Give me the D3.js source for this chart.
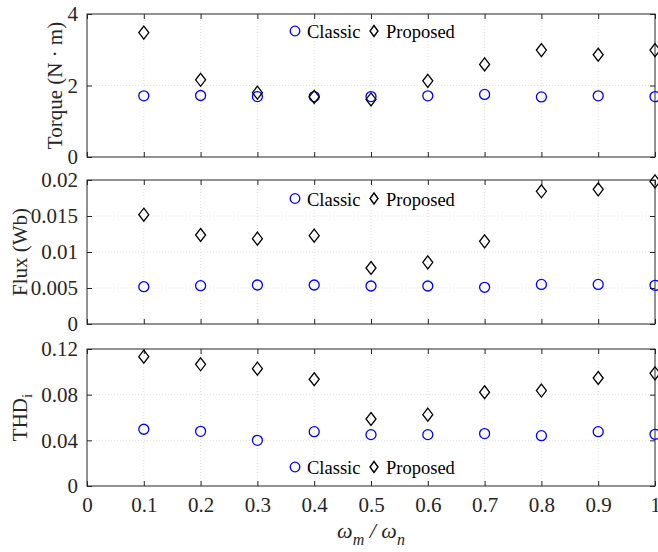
<!DOCTYPE html>
<html>
<head>
<meta charset="utf-8">
<script src="https://cdn.jsdelivr.net/npm/d3@7"></script>
<style>
  html, body { margin: 0; padding: 0; background: #fff; }
  svg, svg text { font-family: "Liberation Serif", "Times New Roman", serif !important; }
  svg { display: block; }
</style>
</head>
<body>
<svg id="chart" width="658" height="552"></svg>
<script>
// ---- data ----
const speedRatio = [0.1, 0.2, 0.3, 0.4, 0.5, 0.6, 0.7, 0.8, 0.9, 1.0];
const torqueClassic  = [1.71, 1.72, 1.69, 1.69, 1.69, 1.71, 1.75, 1.68, 1.71, 1.69];
const torqueProposed = [3.48, 2.16, 1.80, 1.68, 1.61, 2.13, 2.59, 2.99, 2.86, 2.99];
const fluxClassic  = [0.00518, 0.00532, 0.00542, 0.00542, 0.00528, 0.00528, 0.0051, 0.0055, 0.0055, 0.00537];
const fluxProposed = [0.01518, 0.01236, 0.01185, 0.01227, 0.00778, 0.00856, 0.01148, 0.01843, 0.0187, 0.0198];
const thdClassic  = [0.0497, 0.0479, 0.0400, 0.0476, 0.0450, 0.0450, 0.0459, 0.0441, 0.0476, 0.0453];
const thdProposed = [0.1133, 0.1066, 0.1028, 0.0935, 0.0587, 0.0625, 0.0821, 0.0836, 0.0946, 0.0987];
const xTicks = [0, 0.1, 0.2, 0.3, 0.4, 0.5, 0.6, 0.7, 0.8, 0.9, 1];
const xTickLabels = ["0", "0.1", "0.2", "0.3", "0.4", "0.5", "0.6", "0.7", "0.8", "0.9", "1"];
const torqueTicks = [0, 2, 4];
const torqueTickLabels = ["0", "2", "4"];
const fluxTicks = [0, 0.005, 0.01, 0.015, 0.02];
const fluxTickLabels = ["0", "0.005", "0.01", "0.015", "0.02"];
const thdTicks = [0, 0.04, 0.08, 0.12];
const thdTickLabels = ["0", "0.04", "0.08", "0.12"];
const seriesNames = ["Classic", "Proposed"];

// ---- layout ----
const svg = d3.select("#chart");
const axisColor = "#262626";
const serif = '"Liberation Serif", "Times New Roman", serif';
const left = 87, right = 655;
const x = d3.scaleLinear().domain([0, 1]).range([left, right]);

const panels = [
  { top: 14, bottom: 157, domain: [0, 4], ticks: torqueTicks, labels: torqueTickLabels,
    classic: torqueClassic, proposed: torqueProposed, legendY: 31, ylabelX: 62, ylabel: "torque" },
  { top: 180, bottom: 324, domain: [0, 0.02], ticks: fluxTicks, labels: fluxTickLabels,
    classic: fluxClassic, proposed: fluxProposed, legendY: 198.5, ylabelX: 27, ylabel: "flux" },
  { top: 349, bottom: 486, domain: [0, 0.12], ticks: thdTicks, labels: thdTickLabels,
    classic: thdClassic, proposed: thdProposed, legendY: 467, ylabelX: 27, ylabel: "thd" }
];

const diamond = (hw, hh) => `M0,${-hh}L${hw},0L0,${hh}L${-hw},0Z`;

panels.forEach((p, i) => {
  const y = d3.scaleLinear().domain(p.domain).range([p.bottom, p.top]);
  const g = svg.append("g");

  // grid
  g.append("g").selectAll("line").data(xTicks.slice(1, -1)).join("line")
    .attr("x1", d => x(d)).attr("x2", d => x(d))
    .attr("y1", p.top).attr("y2", p.bottom)
    .attr("stroke", "#d9d9d9").attr("stroke-width", 0.8).attr("stroke-dasharray", "1,2");
  g.append("g").selectAll("line").data(p.ticks.slice(1, -1)).join("line")
    .attr("x1", left).attr("x2", right)
    .attr("y1", d => y(d)).attr("y2", d => y(d))
    .attr("stroke", "#d9d9d9").attr("stroke-width", 0.8).attr("stroke-dasharray", "1,2");

  // axes: left with labels, others with inward ticks only
  const yAxis = d3.axisLeft(y).tickValues(p.ticks).tickSizeInner(-5).tickSizeOuter(0)
    .tickPadding(9).tickFormat((d, k) => p.labels[k]);
  const ya = g.append("g").attr("transform", `translate(${left},0)`).call(yAxis)
    .attr("font-family", null).style("font-family", serif);
  ya.select(".domain").remove();
  ya.selectAll("line").attr("stroke", axisColor);
  ya.selectAll("text").attr("fill", axisColor).attr("font-size", 21).style("font-family", serif);

  const yr = g.append("g").attr("transform", `translate(${right},0)`)
    .call(d3.axisRight(y).tickValues(p.ticks).tickSizeInner(-5).tickSizeOuter(0).tickFormat(""));
  yr.select(".domain").remove();
  yr.selectAll("line").attr("stroke", axisColor);

  const isBottom = i === panels.length - 1;
  const xb = g.append("g").attr("transform", `translate(0,${p.bottom})`)
    .call(d3.axisBottom(x).tickValues(xTicks).tickSizeInner(-5).tickSizeOuter(0).tickPadding(11)
      .tickFormat((d, k) => isBottom ? xTickLabels[k] : ""))
    .attr("font-family", null).style("font-family", serif);
  xb.select(".domain").remove();
  xb.selectAll("line").attr("stroke", axisColor);
  xb.selectAll("text").attr("fill", axisColor).attr("font-size", 21).style("font-family", serif);

  const xt = g.append("g").attr("transform", `translate(0,${p.top})`)
    .call(d3.axisTop(x).tickValues(xTicks).tickSizeInner(-5).tickSizeOuter(0).tickFormat(""));
  xt.select(".domain").remove();
  xt.selectAll("line").attr("stroke", axisColor);

  // box
  g.append("rect").attr("x", left).attr("y", p.top)
    .attr("width", right - left).attr("height", p.bottom - p.top)
    .attr("fill", "none").attr("stroke", axisColor).attr("stroke-width", 1);

  // markers
  g.append("g").selectAll("circle").data(speedRatio).join("circle")
    .attr("cx", d => x(d)).attr("cy", (d, k) => y(p.classic[k])).attr("r", 5)
    .attr("fill", "none").attr("stroke", "#0000ff").attr("stroke-width", 1.3);
  g.append("g").selectAll("path").data(speedRatio).join("path")
    .attr("transform", (d, k) => `translate(${x(d)},${y(p.proposed[k])})`)
    .attr("d", diamond(5, 6.5))
    .attr("fill", "none").attr("stroke", "#000").attr("stroke-width", 1.3);

  // legend
  const lg = g.append("g").attr("transform", `translate(0,${p.legendY})`);
  lg.append("circle").attr("cx", 295).attr("cy", 0).attr("r", 4.8)
    .attr("fill", "none").attr("stroke", "#0000ff").attr("stroke-width", 1.3);
  lg.append("text").attr("x", 307).attr("y", 7).attr("font-size", 18.5).attr("fill", "#000")
    .text(seriesNames[0]);
  lg.append("path").attr("transform", "translate(374,0)").attr("d", diamond(4, 5.5))
    .attr("fill", "none").attr("stroke", "#000").attr("stroke-width", 1.4);
  lg.append("text").attr("x", 386).attr("y", 7).attr("font-size", 18.5).attr("fill", "#000")
    .text(seriesNames[1]);

  // y label
  const cy = (p.top + p.bottom) / 2;
  const yl = svg.append("text")
    .attr("transform", `translate(${p.ylabelX},${cy}) rotate(-90)`)
    .attr("text-anchor", "middle").attr("font-size", 21).attr("fill", axisColor);
  if (p.ylabel === "torque") yl.text("Torque (N \u00b7 m)");
  else if (p.ylabel === "flux") yl.text("Flux (Wb)");
  else {
    yl.append("tspan").text("THD");
    yl.append("tspan").attr("font-size", 15).attr("dy", 5).text("i");
  }
});

// x label: ω_m / ω_n
const xl = svg.append("text").attr("x", x(0.5)).attr("y", 538)
  .attr("text-anchor", "middle").attr("font-size", 22).attr("font-style", "italic")
  .attr("fill", axisColor);
xl.append("tspan").text("\u03c9");
xl.append("tspan").attr("font-size", 16).attr("dy", 7).text("m");
xl.append("tspan").attr("dy", -7).text(" / ");
xl.append("tspan").text("\u03c9");
xl.append("tspan").attr("font-size", 16).attr("dy", 7).text("n");
</script>
</body>
</html>
